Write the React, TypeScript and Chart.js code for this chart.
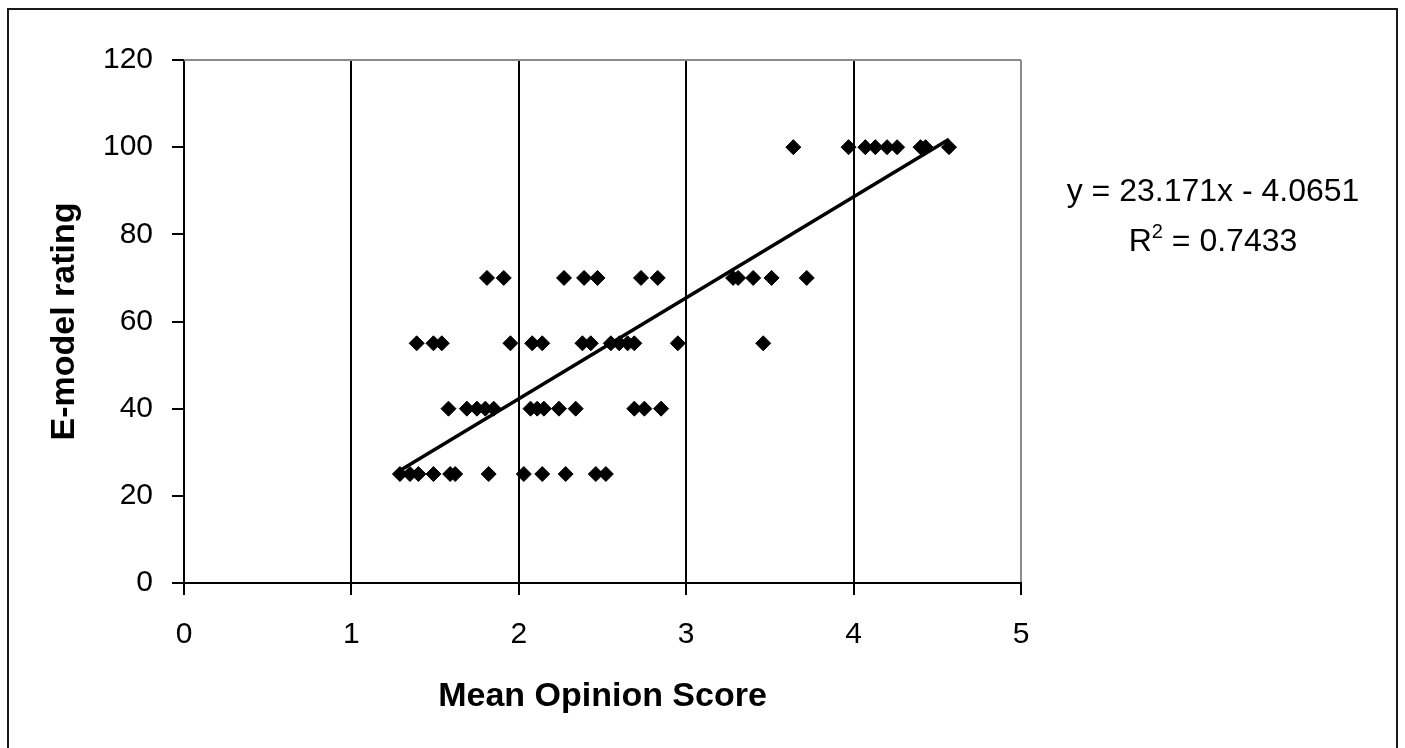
import React, { useEffect, useRef } from "react";
import { Chart, registerables } from "chart.js";

Chart.register(...registerables);

// E-model rating levels and the Mean Opinion Scores observed at each level
const ratingLevels = [25, 40, 55, 70, 100];
const mos25 = [1.29, 1.35, 1.4, 1.49, 1.59, 1.62, 1.82, 2.03, 2.14, 2.28, 2.46, 2.52];
const mos40 = [1.58, 1.69, 1.75, 1.8, 1.85, 2.07, 2.11, 2.15, 2.24, 2.34, 2.69, 2.75, 2.85];
const mos55 = [1.39, 1.49, 1.54, 1.95, 2.08, 2.14, 2.38, 2.43, 2.55, 2.6, 2.65, 2.69, 2.95, 3.46];
const mos70 = [1.81, 1.91, 2.27, 2.39, 2.47, 2.73, 2.83, 3.28, 3.31, 3.4, 3.51, 3.72];
const mos100 = [3.64, 3.97, 4.07, 4.13, 4.2, 4.26, 4.4, 4.43, 4.57];
const mosByLevel = [mos25, mos40, mos55, mos70, mos100];

// Linear trend line reported in the chart
const trendSlope = 23.171;
const trendIntercept = -4.0651;
const trendR2 = "0.7433";

const xTicks = [0, 1, 2, 3, 4, 5];
const yTicks = [0, 20, 40, 60, 80, 100, 120];

const FONT = "'Liberation Sans', Arial, sans-serif";

export default function App() {
  const canvasRef = useRef<HTMLCanvasElement | null>(null);

  useEffect(() => {
    const canvas = canvasRef.current;
    if (!canvas) return;

    const points: { x: number; y: number }[] = [];
    ratingLevels.forEach((lvl, i) => {
      mosByLevel[i].forEach((m) => points.push({ x: m, y: lvl }));
    });
    const allX = points.map((p) => p.x);
    const xMin = Math.min(...allX);
    const xMax = Math.max(...allX);
    const trend = [
      { x: xMin, y: trendSlope * xMin + trendIntercept },
      { x: xMax, y: trendSlope * xMax + trendIntercept },
    ];

    const eqPlugin = {
      id: "eqPlugin",
      afterDraw(chart: any) {
        const ctx = chart.ctx;
        const area = chart.chartArea;
        ctx.save();
        // plot-area top border
        ctx.strokeStyle = "#8a8a8a";
        ctx.lineWidth = 2;
        ctx.beginPath();
        ctx.moveTo(area.left, area.top);
        ctx.lineTo(area.right, area.top);
        ctx.stroke();

        ctx.fillStyle = "#000";
        ctx.textBaseline = "alphabetic";
        const cx = 1213;
        ctx.font = `32px ${FONT}`;
        const sign = trendIntercept < 0 ? "-" : "+";
        const line1 = `y = ${trendSlope}x ${sign} ${Math.abs(trendIntercept)}`;
        ctx.textAlign = "center";
        ctx.fillText(line1, cx, 201);

        // R² line with superscript
        ctx.textAlign = "left";
        const partR = "R";
        const partRest = ` = ${trendR2}`;
        ctx.font = `32px ${FONT}`;
        const wR = ctx.measureText(partR).width;
        const wRest = ctx.measureText(partRest).width;
        ctx.font = `20px ${FONT}`;
        const wSup = ctx.measureText("2").width;
        const total = wR + wSup + wRest;
        let x = cx - total / 2;
        const base = 251;
        ctx.font = `32px ${FONT}`;
        ctx.fillText(partR, x, base);
        x += wR;
        ctx.font = `20px ${FONT}`;
        ctx.fillText("2", x, base - 13);
        x += wSup;
        ctx.font = `32px ${FONT}`;
        ctx.fillText(partRest, x, base);
        ctx.restore();
      },
    };

    const chart = new Chart(canvas, {
      type: "scatter",
      data: {
        datasets: [
          {
            label: "E-model rating",
            data: points,
            pointStyle: "rectRot",
            pointRadius: 7.5,
            pointHoverRadius: 7.5,
            backgroundColor: "#000",
            borderColor: "#000",
            borderWidth: 1,
          },
          {
            label: "Linear trend",
            data: trend,
            showLine: true,
            pointRadius: 0,
            borderColor: "#000",
            borderWidth: 3.5,
            fill: false,
          },
        ],
      },
      plugins: [eqPlugin],
      options: {
        animation: false,
        responsive: false,
        devicePixelRatio: 1,
        layout: { padding: { left: 0, top: 60, right: 1405 - 1021, bottom: 0 } },
        plugins: {
          legend: { display: false },
          tooltip: { enabled: false },
        },
        scales: {
          x: {
            type: "linear",
            min: 0,
            max: 5,
            afterBuildTicks: (scale: any) => {
              scale.ticks = xTicks.map((v) => ({ value: v }));
            },
            afterFit: (scale: any) => {
              scale.height = 748 - 583;
            },
            ticks: {
              color: "#000",
              font: { family: FONT, size: 30 },
              padding: 22,
              maxRotation: 0,
            },
            grid: {
              drawOnChartArea: true,
              drawTicks: true,
              tickLength: 12,
              lineWidth: 2,
              tickColor: "#000",
              color: (ctx: any) =>
                ctx.tick && ctx.tick.value === 5 ? "#8a8a8a" : "#000",
            },
            border: { display: true, color: "#000", width: 2 },
            title: {
              display: true,
              text: "Mean Opinion Score",
              color: "#000",
              font: { family: FONT, size: 34, weight: "bold" },
              padding: { top: 0, bottom: 31 },
            },
          },
          y: {
            type: "linear",
            min: 0,
            max: 120,
            afterBuildTicks: (scale: any) => {
              scale.ticks = yTicks.map((v) => ({ value: v }));
            },
            afterFit: (scale: any) => {
              scale.width = 184;
            },
            ticks: {
              color: "#000",
              font: { family: FONT, size: 30 },
              padding: 19,
            },
            grid: {
              drawOnChartArea: false,
              drawTicks: true,
              tickLength: 12,
              lineWidth: 2,
              color: "#000",
              tickColor: "#000",
            },
            border: { display: true, color: "#000", width: 2 },
            title: {
              display: true,
              text: "E-model rating",
              color: "#000",
              font: { family: FONT, size: 34, weight: "bold" },
              padding: { top: 44, bottom: 0 },
            },
          },
        },
      },
    } as any);

    return () => chart.destroy();
  }, []);

  return (
    <div
      style={{
        position: "fixed",
        left: 0,
        top: 0,
        width: 1405,
        height: 748,
        overflow: "hidden",
        background: "#fff",
      }}
    >
      <canvas
        ref={canvasRef}
        width={1405}
        height={748}
        style={{ position: "absolute", left: 0, top: 0, width: 1405, height: 748 }}
      />
      <div
        style={{
          position: "absolute",
          left: 7,
          top: 8,
          width: 1391,
          height: 800,
          border: "2px solid #1a1a1a",
          boxSizing: "border-box",
          pointerEvents: "none",
        }}
      />
    </div>
  );
}
